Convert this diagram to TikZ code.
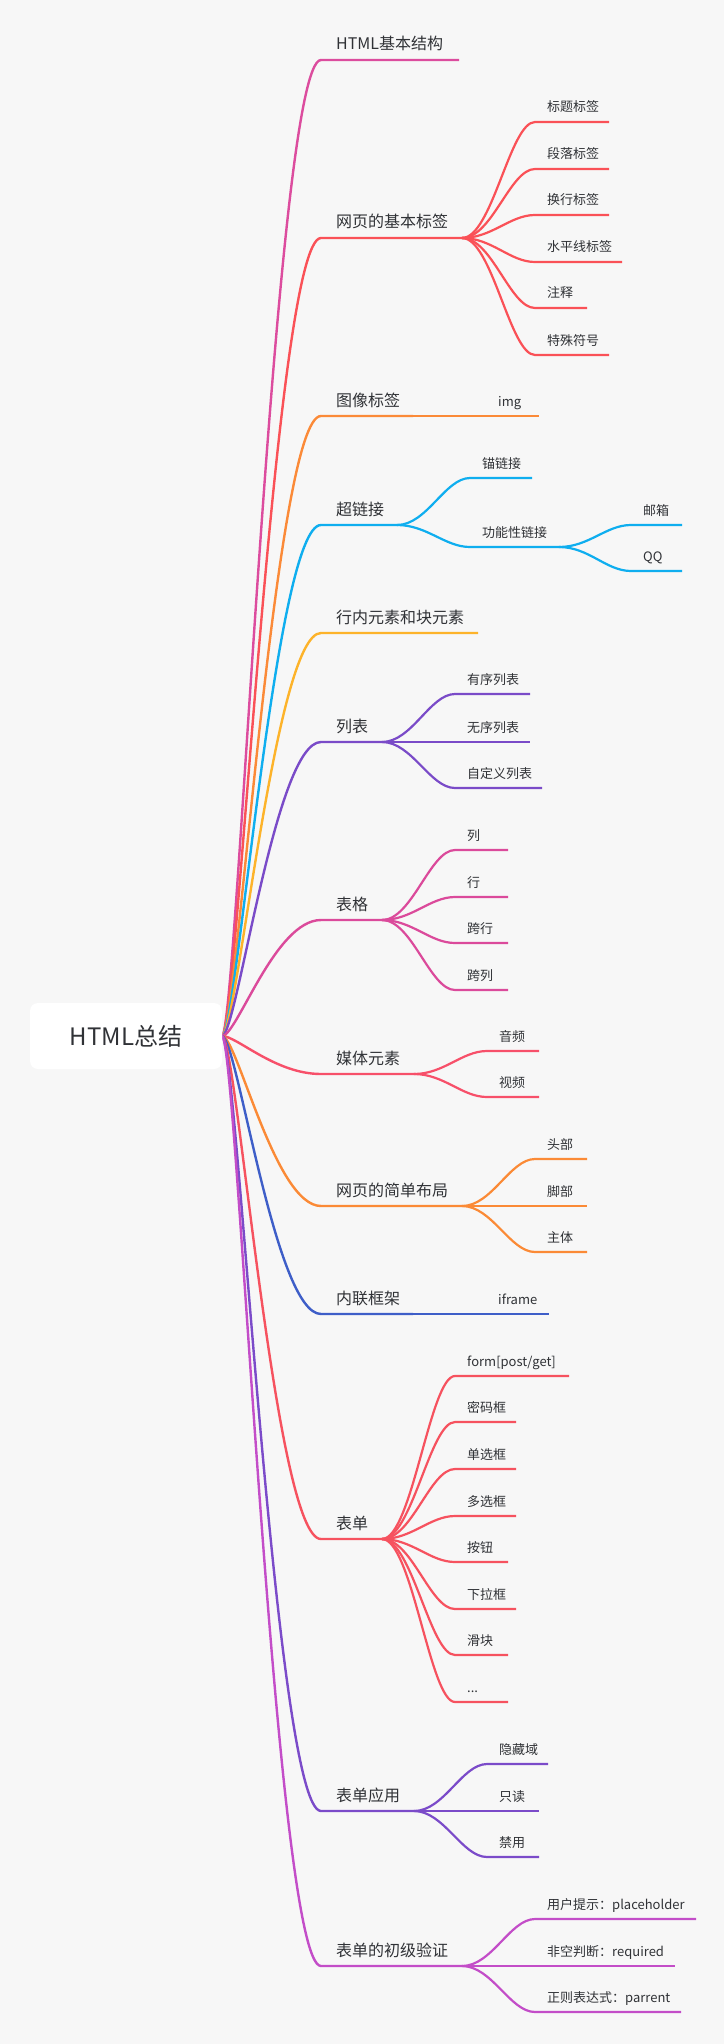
\documentclass[tikz,border=0pt]{standalone}
\usepackage{fontspec}
\setmainfont{Noto Sans CJK SC}
\definecolor{bg}{HTML}{F7F7F7}
\definecolor{txt}{HTML}{303236}
\definecolor{cA}{HTML}{DC4C9E}
\definecolor{cB}{HTML}{FA5157}
\definecolor{cC}{HTML}{FB8A38}
\definecolor{cD}{HTML}{0FAEEF}
\definecolor{cE}{HTML}{FDB32A}
\definecolor{cF}{HTML}{7A4BC8}
\definecolor{cG}{HTML}{DB4A9B}
\definecolor{cH}{HTML}{F7506A}
\definecolor{cI}{HTML}{FB8A36}
\definecolor{cJ}{HTML}{3E5EC8}
\definecolor{cK}{HTML}{F6525F}
\definecolor{cL}{HTML}{7B4BC9}
\definecolor{cM}{HTML}{C34DC8}
\tikzset{
  topic/.style={anchor=base west, inner sep=0pt, text=txt, font=\fontsize{16}{16}\selectfont},
  subtopic/.style={anchor=base west, inner sep=0pt, text=txt, font=\fontsize{13}{13}\selectfont},
  mainline/.style={line width=2.4pt, line join=round},
  subline/.style={line width=2.2pt, line join=round},
  rootbox/.style={fill=white, rounded corners=8pt, draw=none},
}
\newcommand\mainbranch[5]{%
  \coordinate (#1s) at (321,#3);
  \coordinate (#1e) at (#4,#3);
  \node[topic] (#1) at (336,#3-10) {#5};
  \draw[mainline,#2] (R) .. controls +(15,0) and +(-46,0) .. (#1s) -- (#1e);
}
\newcommand\subbranch[7]{%
  \coordinate (#1s) at (#4+73,#5);
  \coordinate (#1e) at (#6,#5);
  \node[subtopic] (#1) at (#4+85,#5-10) {#7};
  \draw[subline,#2] (#3e) .. controls +(30,0) and +(-25,0) .. (#1s) -- (#1e);
}
\begin{document}
\begin{tikzpicture}[x=1pt,y=-1pt]
\fill[bg] (0,0) rectangle (724,2044);
\useasboundingbox (0,0) rectangle (724,2044);
\coordinate (R) at (222,1036);
% main branches
\mainbranch{m1}{cA}{60}{459}{HTML基本结构}
\mainbranch{m2}{cB}{238}{462}{网页的基本标签}
\mainbranch{m3}{cC}{416}{413}{图像标签}
\mainbranch{m4}{cD}{525}{397}{超链接}
\mainbranch{m5}{cE}{633}{478}{行内元素和块元素}
\mainbranch{m6}{cF}{742}{382}{列表}
\mainbranch{m7}{cG}{920}{382}{表格}
\mainbranch{m8}{cH}{1074}{414}{媒体元素}
\mainbranch{m9}{cI}{1206}{462}{网页的简单布局}
\mainbranch{m10}{cJ}{1314}{413}{内联框架}
\mainbranch{m11}{cK}{1539}{382}{表单}
\mainbranch{m12}{cL}{1811}{414}{表单应用}
\mainbranch{m13}{cM}{1966}{462}{表单的初级验证}
% root
\node[rootbox, minimum width=192pt, minimum height=66pt] (root) at (126,1036) {};
\node[text=txt, inner sep=0pt, font=\fontsize{24}{24}\selectfont] (roottext) at (126,1036) {HTML总结};
% children of m2
\subbranch{s21}{cB}{m2}{462}{122}{609}{标题标签}
\subbranch{s22}{cB}{m2}{462}{169}{609}{段落标签}
\subbranch{s23}{cB}{m2}{462}{215}{609}{换行标签}
\subbranch{s24}{cB}{m2}{462}{262}{622}{水平线标签}
\subbranch{s25}{cB}{m2}{462}{308}{587}{注释}
\subbranch{s26}{cB}{m2}{462}{355}{609}{特殊符号}
% m3
\subbranch{s31}{cC}{m3}{413}{416}{539}{img}
% m4
\subbranch{s41}{cD}{m4}{397}{478}{532}{锚链接}
\subbranch{s42}{cD}{m4}{397}{547}{559}{功能性链接}
\subbranch{s421}{cD}{s42}{558}{525}{682}{邮箱}
\subbranch{s422}{cD}{s42}{558}{571}{682}{QQ}
% m6
\subbranch{s61}{cF}{m6}{382}{694}{530}{有序列表}
\subbranch{s62}{cF}{m6}{382}{742}{530}{无序列表}
\subbranch{s63}{cF}{m6}{382}{788}{542}{自定义列表}
% m7
\subbranch{s71}{cG}{m7}{382}{850}{508}{列}
\subbranch{s72}{cG}{m7}{382}{897}{508}{行}
\subbranch{s73}{cG}{m7}{382}{943}{508}{跨行}
\subbranch{s74}{cG}{m7}{382}{990}{508}{跨列}
% m8
\subbranch{s81}{cH}{m8}{414}{1051}{539}{音频}
\subbranch{s82}{cH}{m8}{414}{1097}{539}{视频}
% m9
\subbranch{s91}{cI}{m9}{462}{1159}{587}{头部}
\subbranch{s92}{cI}{m9}{462}{1206}{587}{脚部}
\subbranch{s93}{cI}{m9}{462}{1252}{587}{主体}
% m10
\subbranch{s101}{cJ}{m10}{413}{1314}{549}{iframe}
% m11
\subbranch{s111}{cK}{m11}{382}{1376}{569}{form[post/get]}
\subbranch{s112}{cK}{m11}{382}{1422}{516}{密码框}
\subbranch{s113}{cK}{m11}{382}{1469}{516}{单选框}
\subbranch{s114}{cK}{m11}{382}{1516}{516}{多选框}
\subbranch{s115}{cK}{m11}{382}{1562}{508}{按钮}
\subbranch{s116}{cK}{m11}{382}{1609}{516}{下拉框}
\subbranch{s117}{cK}{m11}{382}{1655}{508}{滑块}
\subbranch{s118}{cK}{m11}{382}{1702}{508}{...}
% m12
\subbranch{s121}{cL}{m12}{414}{1764}{548}{隐藏域}
\subbranch{s122}{cL}{m12}{414}{1811}{539}{只读}
\subbranch{s123}{cL}{m12}{414}{1857}{539}{禁用}
% m13
\subbranch{s131}{cM}{m13}{462}{1919}{696}{用户提示：placeholder}
\subbranch{s132}{cM}{m13}{462}{1966}{675}{非空判断：required}
\subbranch{s133}{cM}{m13}{462}{2012}{681}{正则表达式：parrent}
\end{tikzpicture}
\end{document}
